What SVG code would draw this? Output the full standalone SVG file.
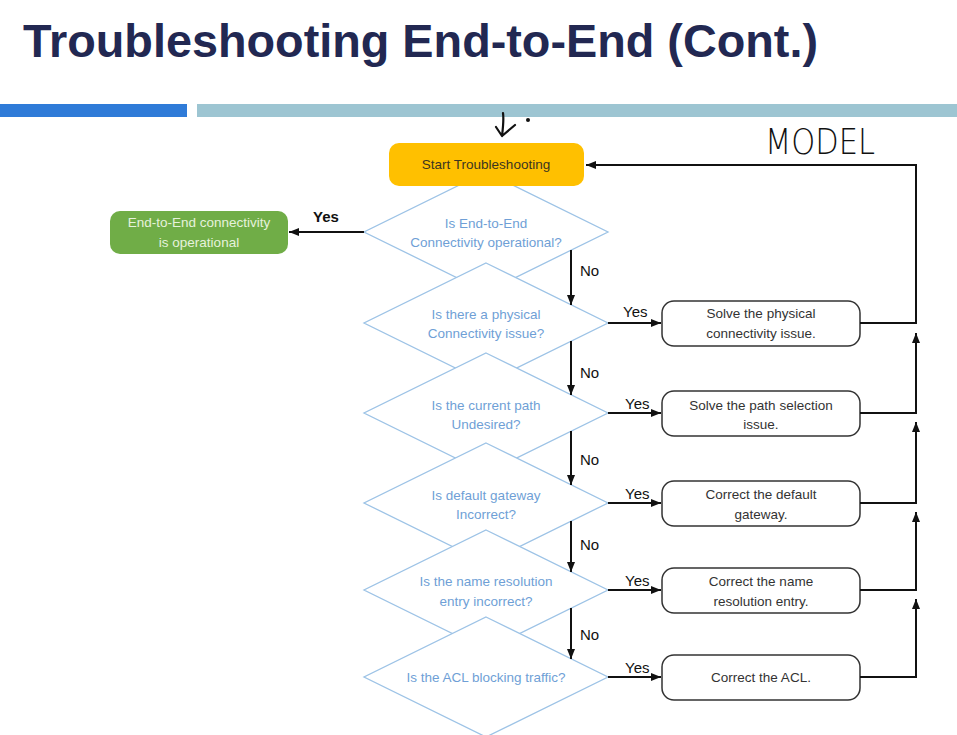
<svg xmlns="http://www.w3.org/2000/svg" width="957" height="735" viewBox="0 0 957 735">
<defs>
<marker id="ah" markerWidth="10" markerHeight="8" refX="10" refY="4" orient="auto" markerUnits="userSpaceOnUse">
<path d="M0,0 L10,4 L0,8 Z" fill="#111"/>
</marker>
<style>
.dia{fill:#fff;stroke:#9dc3e6;stroke-width:1.3}
.dt{font-family:"Liberation Sans",Arial,sans-serif;font-size:13.5px;fill:#6f9fd6;text-anchor:middle}
.box{fill:#fff;stroke:#333;stroke-width:1.5}
.bt{font-family:"Liberation Sans",Arial,sans-serif;font-size:13.5px;fill:#333;text-anchor:middle}
.lbl{font-family:"Liberation Sans",Arial,sans-serif;font-size:15px;fill:#111}
.cn{fill:none;stroke:#111;stroke-width:2}
</style>
</defs>
<rect width="957" height="735" fill="#fff"/>
<text x="23" y="57" font-family="Liberation Sans,Arial,sans-serif" font-weight="bold" font-size="47" fill="#222852" textLength="795" lengthAdjust="spacingAndGlyphs">Troubleshooting End-to-End (Cont.)</text>
<rect x="0" y="104" width="187" height="13" fill="#2f7bd8"/>
<rect x="197" y="104" width="760" height="13" fill="#9dc5d2"/>
<g id="annotations">
<path d="M503,113 C504,120 503,128 502,136 M496,127 L502,136 L515,125" fill="none" stroke="#111" stroke-width="2.2" stroke-linecap="round" stroke-linejoin="round"/>
<circle cx="528" cy="120" r="2" fill="#111"/>
<text x="765" y="154" font-family="DejaVu Sans,sans-serif" font-weight="200" font-size="36" fill="#111" textLength="110" lengthAdjust="spacingAndGlyphs">MODEL</text>
</g>
<g id="d1"><polygon class="dia" points="486,172 608,232 486,292 364,232"/><text class="dt" x="486" y="228">Is End-to-End</text><text class="dt" x="486" y="247">Connectivity operational?</text></g>
<g id="d2"><polygon class="dia" points="486,263 608,323 486,383 364,323"/><text class="dt" x="486" y="319">Is there a physical</text><text class="dt" x="486" y="338">Connectivity issue?</text></g>
<g id="d3"><polygon class="dia" points="486,353 608,413 486,473 364,413"/><text class="dt" x="486" y="410">Is the current path</text><text class="dt" x="486" y="429">Undesired?</text></g>
<g id="d4"><polygon class="dia" points="486,443 608,503 486,563 364,503"/><text class="dt" x="486" y="500">Is default gateway</text><text class="dt" x="486" y="519">Incorrect?</text></g>
<g id="d5"><polygon class="dia" points="486,530 608,590 486,650 364,590"/><text class="dt" x="486" y="586">Is the name resolution</text><text class="dt" x="486" y="606">entry incorrect?</text></g>
<g id="d6"><polygon class="dia" points="486,617 608,677 486,737 364,677"/><text class="dt" x="486" y="682">Is the ACL blocking traffic?</text></g>
<g id="start"><rect x="389" y="143" width="195" height="43" rx="10" fill="#ffc000"/><text x="486" y="169" font-family="Liberation Sans,Arial,sans-serif" font-size="13.5" fill="#3b3520" text-anchor="middle">Start Troubleshooting</text></g>
<g id="ok"><rect x="110" y="211" width="178" height="43" rx="10" fill="#70ad47"/><text x="199" y="227" font-family="Liberation Sans,Arial,sans-serif" font-size="13.5" fill="#e6f2dc" text-anchor="middle">End-to-End connectivity</text><text x="199" y="247" font-family="Liberation Sans,Arial,sans-serif" font-size="13.5" fill="#e6f2dc" text-anchor="middle">is operational</text></g>
<g id="b1"><rect class="box" x="662" y="301" width="198" height="45" rx="12"/><text class="bt" x="761" y="318">Solve the physical</text><text class="bt" x="761" y="338">connectivity issue.</text></g>
<g id="b2"><rect class="box" x="662" y="391" width="198" height="45" rx="12"/><text class="bt" x="761" y="410">Solve the path selection</text><text class="bt" x="761" y="429">issue.</text></g>
<g id="b3"><rect class="box" x="662" y="481" width="198" height="45" rx="12"/><text class="bt" x="761" y="499">Correct the default</text><text class="bt" x="761" y="519">gateway.</text></g>
<g id="b4"><rect class="box" x="662" y="568" width="198" height="45" rx="12"/><text class="bt" x="761" y="586">Correct the name</text><text class="bt" x="761" y="606">resolution entry.</text></g>
<g id="b5"><rect class="box" x="662" y="655" width="198" height="45" rx="12"/><text class="bt" x="761" y="682">Correct the ACL.</text></g>
<g id="connectors">
<line class="cn" x1="364" y1="232" x2="289" y2="232" marker-end="url(#ah)"/>
<text class="lbl" x="313" y="222" font-weight="bold">Yes</text>
<line class="cn" x1="571" y1="250" x2="571" y2="305" marker-end="url(#ah)"/>
<line class="cn" x1="571" y1="341" x2="571" y2="395" marker-end="url(#ah)"/>
<line class="cn" x1="571" y1="431" x2="571" y2="485" marker-end="url(#ah)"/>
<line class="cn" x1="571" y1="521" x2="571" y2="572" marker-end="url(#ah)"/>
<line class="cn" x1="571" y1="608" x2="571" y2="659" marker-end="url(#ah)"/>
<text class="lbl" x="580" y="276">No</text>
<text class="lbl" x="580" y="378">No</text>
<text class="lbl" x="580" y="465">No</text>
<text class="lbl" x="580" y="550">No</text>
<text class="lbl" x="580" y="640">No</text>
<line class="cn" x1="608" y1="323" x2="661" y2="323" marker-end="url(#ah)"/>
<line class="cn" x1="608" y1="413" x2="661" y2="413" marker-end="url(#ah)"/>
<line class="cn" x1="608" y1="503" x2="661" y2="503" marker-end="url(#ah)"/>
<line class="cn" x1="608" y1="590" x2="661" y2="590" marker-end="url(#ah)"/>
<line class="cn" x1="608" y1="677" x2="661" y2="677" marker-end="url(#ah)"/>
<text class="lbl" x="623" y="317">Yes</text>
<text class="lbl" x="625" y="409">Yes</text>
<text class="lbl" x="625" y="499">Yes</text>
<text class="lbl" x="625" y="586">Yes</text>
<text class="lbl" x="625" y="673">Yes</text>
<polyline class="cn" points="860,323 916,323 916,165 586,165" marker-end="url(#ah)"/>
<polyline class="cn" points="860,413 916,413 916,333" marker-end="url(#ah)"/>
<polyline class="cn" points="860,503 916,503 916,422" marker-end="url(#ah)"/>
<polyline class="cn" points="860,590 916,590 916,512" marker-end="url(#ah)"/>
<polyline class="cn" points="860,677 916,677 916,599" marker-end="url(#ah)"/>
</g>
</svg>
